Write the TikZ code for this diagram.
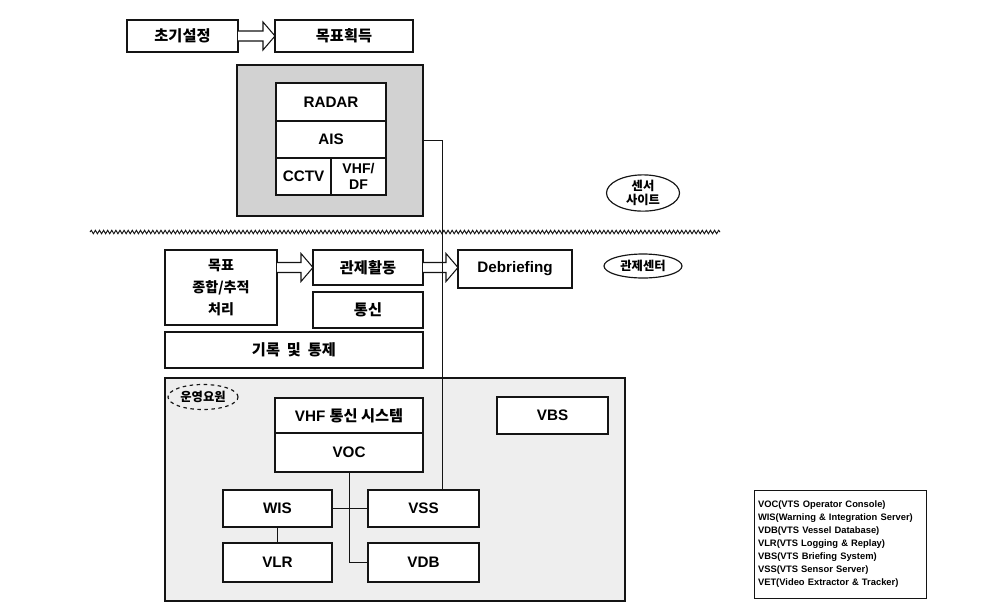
\documentclass[tikz,border=0pt]{standalone}
\usepackage{fontspec}
\setmainfont{Liberation Sans}
\newfontfamily\kr{Noto Sans CJK KR}
\usetikzlibrary{positioning,calc,shapes.geometric,decorations.pathmorphing}
\definecolor{ink}{HTML}{141414}
\definecolor{dotdense}{HTML}{D2D2D2}
\definecolor{dotlight}{HTML}{EEEEEE}

% hollow block arrow between two anchors on one height
\newcommand{\fatarrow}[2]{%
  \draw[ink,fill=white,line width=0.9pt] let \p1=(#1), \p2=(#2) in
    (\x1,\y1+0.15cm) -- (\x2-0.36cm,\y1+0.15cm) -- (\x2-0.36cm,\y1+0.42cm)
    -- (\x2,\y1) -- (\x2-0.36cm,\y1-0.42cm) -- (\x2-0.36cm,\y1-0.15cm)
    -- (\x1,\y1-0.15cm);}

\begin{document}
\begin{tikzpicture}[x=0.03cm,y=-0.03cm,
    font=\fontsize{13}{15}\selectfont\bfseries,
    box/.style={draw=ink,line width=1.1pt,fill=white,inner sep=1pt,outer sep=0pt},
    zone/.style={draw=ink,line width=1.5pt,outer sep=0pt},
    tag/.style={ellipse,draw=ink,line width=1pt,inner sep=0pt,align=center,
                font=\kr\fontsize{10.5}{12}\selectfont\bfseries},
    wire/.style={ink,line width=0.8pt}]
  \useasboundingbox (0,0) rectangle (989,603);

  % sensor site
  \node[box,minimum width=3.33cm,minimum height=0.96cm] (init) at (182.5,36) {\kr 초기설정};
  \node[box,minimum width=4.14cm,minimum height=0.96cm] (acq) at (344,36) {\kr 목표획득};
  \node[zone,fill=dotdense,minimum width=5.58cm,minimum height=4.53cm] (site) at (330,140.5) {};
  \node[box,minimum width=3.3cm,minimum height=1.14cm] (radar) at (331,102) {RADAR};
  \node[box,minimum width=3.3cm,minimum height=1.11cm,below=0pt of radar] (ais) {AIS};
  \node[box,minimum width=1.65cm,minimum height=1.11cm,below right=0pt and 0pt of ais.south west] (cctv) {CCTV};
  \node[box,minimum width=1.65cm,minimum height=1.11cm,right=0pt of cctv,align=center,
        font=\fontsize{12}{13}\selectfont\bfseries] (vhfdf) {VHF/\\DF};
  \node[tag,minimum width=2.19cm,minimum height=0.99cm] (sitetag) at (643,193) {센서\\사이트};

  \coordinate (wavel) at (90,232);
  \coordinate (waver) at (720,232);
  \draw[wire,decorate,decoration={snake,amplitude=1.5pt,segment length=3.5pt}] (wavel) -- (waver);

  % control center
  \node[tag,minimum width=2.34cm,minimum height=0.72cm] (centertag) at (643,266) {관제센터};
  \node[box,minimum width=3.36cm,minimum height=2.25cm,align=center,
        font=\kr\fontsize{12}{19}\selectfont\bfseries] (fusion) at (221,287.5) {목표\\종합/추적\\처리};
  \node[box,minimum width=3.3cm,minimum height=1.05cm] (ctrl) at (368,267.5) {\kr 관제활동};
  \node[box,minimum width=3.3cm,minimum height=1.08cm] (comm) at (368,310) {\kr 통신};
  \node[box,minimum width=3.42cm,minimum height=1.14cm] (debrief) at (515,269) {Debriefing};
  \node[box,minimum width=7.74cm,minimum height=1.08cm] (record) at (294,350) {\kr 기록\ \ 및\ \ 통제};

  % operators
  \node[zone,fill=dotlight,minimum width=13.8cm,minimum height=6.69cm] (ops) at (395,489.5) {};
  \node[tag,dashed,minimum width=2.1cm,minimum height=0.75cm] (opstag) at (203,397) {운영요원};
  \node[box,minimum width=4.44cm,minimum height=1.05cm] (vhfsys) at (349,415.5) {VHF {\kr 통신 시스템}};
  \node[box,minimum width=4.44cm,minimum height=1.17cm,below=0pt of vhfsys] (voc) {VOC};
  \node[box,minimum width=3.33cm,minimum height=1.11cm] (vbs) at (552.5,415.5) {VBS};
  \node[box,minimum width=3.27cm,minimum height=1.11cm] (wis) at (277.5,508.5) {WIS};
  \node[box,minimum width=3.33cm,minimum height=1.11cm] (vss) at (423.5,508.5) {VSS};
  \node[box,minimum width=3.27cm,minimum height=1.17cm] (vlr) at (277.5,562.5) {VLR};
  \node[box,minimum width=3.33cm,minimum height=1.17cm] (vdb) at (423.5,562.5) {VDB};

  \node[draw=ink,line width=0.8pt,minimum width=5.13cm,minimum height=3.24cm,
        text width=4.95cm,align=left,font=\fontsize{8}{11}\selectfont\bfseries] (legend) at (840.5,544)
    {VOC(VTS Operator Console)\\
     WIS(Warning \& Integration Server)\\
     VDB(VTS Vessel Database)\\
     VLR(VTS Logging \& Replay)\\
     VBS(VTS Briefing System)\\
     VSS(VTS Sensor Server)\\
     VET(Video Extractor \& Tracker)};

  \fatarrow{init.east}{acq.west}
  \fatarrow{fusion.east |- ctrl.west}{ctrl.west}
  \fatarrow{ctrl.east}{debrief.west}

  \coordinate (bend) at (442,140.5);
  \draw[wire] (site.east) -- (bend) -- (bend |- vss.north);
  \draw[wire] (voc.south) |- (vdb.west);
  \draw[wire] (wis.east) -- (vss.west);
  \draw[wire] (wis.south) -- (vlr.north);
\end{tikzpicture}
\end{document}
